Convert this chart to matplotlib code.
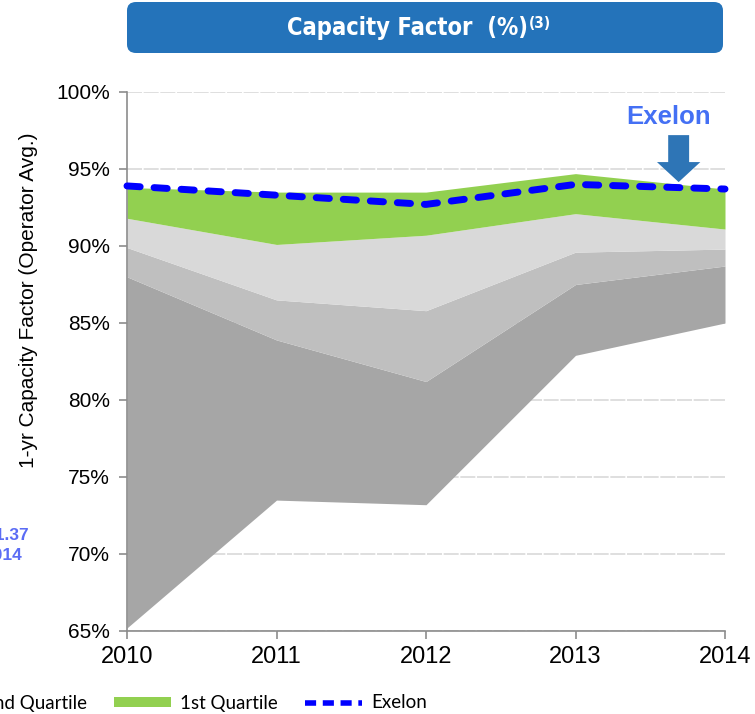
import matplotlib
matplotlib.use('Agg')
import matplotlib.pyplot as plt
from matplotlib.patches import FancyBboxPatch, Patch
from matplotlib.lines import Line2D
import numpy as np

plt.rcParams['font.family'] = ['Liberation Sans', 'DejaVu Sans']

# quartile boundaries, 1-yr capacity factor (%)
years = [2010, 2011, 2012, 2013, 2014]
q_min = [65.2, 73.5, 73.2, 82.9, 85.0]
q_25 = [88.0, 83.9, 81.2, 87.5, 88.7]
q_50 = [89.9, 86.5, 85.8, 89.6, 89.8]
q_75 = [91.8, 90.1, 90.7, 92.1, 91.1]
q_max = [93.8, 93.5, 93.5, 94.7, 93.7]
exelon = [93.9, 93.3, 92.7, 94.0, 93.7]

yticks = [65, 70, 75, 80, 85, 90, 95, 100]
legend_labels = ['4th Quartile', '3rd Quartile', '2nd Quartile', '1st Quartile', 'Exelon']
band_colors = ['#A6A6A6', '#BFBFBF', '#D9D9D9', '#92D050']

W, H = 755, 714
fig = plt.figure(figsize=(W / 100, H / 100), dpi=100)
ax = fig.add_axes([127 / W, 1 - 631 / H, (725 - 127) / W, (631 - 92) / H])

# stacked quartile bands
bounds = [q_min, q_25, q_50, q_75, q_max]
for i in range(4):
    ax.fill_between(years, bounds[i], bounds[i + 1], color=band_colors[i],
                    linewidth=0, zorder=2)

ax.plot(years, exelon, color='#0000FF', lw=5, dashes=(1.9, 2.0),
        dash_capstyle='round', zorder=4, clip_on=False)

ax.set_xlim(2010, 2014)
ax.set_ylim(65, 100)
ax.set_xticks(years)
ax.set_xticklabels([str(y) for y in years])
ax.set_yticks(yticks)
ax.set_yticklabels(['%d%%' % v for v in yticks])
ax.tick_params(axis='both', color='#8C8C8C', length=6, width=1.2,
               direction='out')
ax.tick_params(axis='x', labelsize=17, pad=4.7)
ax.tick_params(axis='y', labelsize=15, pad=6.5)

for s in ['top', 'right']:
    ax.spines[s].set_visible(False)
for s in ['left', 'bottom']:
    ax.spines[s].set_color('#8C8C8C')
    ax.spines[s].set_linewidth(1.2)

ax.yaxis.grid(True, color='#D9D9D9', lw=1.2, dashes=(9, 1))
ax.set_axisbelow(True)

# Exelon marker
ax.text(2013.62, 98.35, 'Exelon', color='#4470F4', fontsize=18.5, fontweight='bold',
        ha='center', va='center', zorder=6)
ax.arrow(2013.69, 97.2, 0, -1.75, width=0.14, head_width=0.29, head_length=1.3,
         length_includes_head=False, color='#2E75B6', linewidth=0, zorder=6)

# y label
fig.text(29 / W, 1 - 300 / H, '1-yr Capacity Factor (Operator Avg.)', rotation=90,
         ha='center', va='center', fontsize=15)

# title banner
box = FancyBboxPatch((127 / W, 1 - 53 / H), (723 - 127) / W, 51 / H,
                     boxstyle='round,pad=0,rounding_size=0.012',
                     transform=fig.transFigure, facecolor='#2473BA',
                     edgecolor='none')
fig.patches.append(box)
fig.text(528 / W, 1 - 28 / H, 'Capacity Factor  (%)', color='white', fontsize=17,
         fontweight='bold', fontstretch='condensed', ha='right', va='center',
         family=['DejaVu Sans'])
fig.text(529 / W, 1 - 23 / H, '(3)', color='white', fontsize=11,
         fontweight='bold', fontstretch='condensed', ha='left', va='center',
         family=['DejaVu Sans'])

# cut-off text from neighbouring panel
fig.text(29 / W, 1 - 536 / H, '21.37', color='#5B6CF5', fontsize=12.5,
         fontweight='bold', ha='right', va='center')
fig.text(22 / W, 1 - 556 / H, '2014', color='#5B6CF5', fontsize=12.5,
         fontweight='bold', ha='right', va='center')

# legend
handles = [Patch(facecolor=c, edgecolor='none') for c in band_colors]
handles.append(Line2D([0], [0], color='#0000FF', lw=4, dashes=(2.0, 1.2)))
fig.legend(handles, legend_labels, ncol=5, frameon=False,
           loc='center right', bbox_to_anchor=(427 / W, 1 - 703 / H),
           borderaxespad=0, borderpad=0, handlelength=3.04, handleheight=0.43,
           handletextpad=0.48, columnspacing=1.44,
           prop={'family': ['Lato', 'DejaVu Sans'], 'size': 13.5})

fig.savefig('out.png', dpi=100)
